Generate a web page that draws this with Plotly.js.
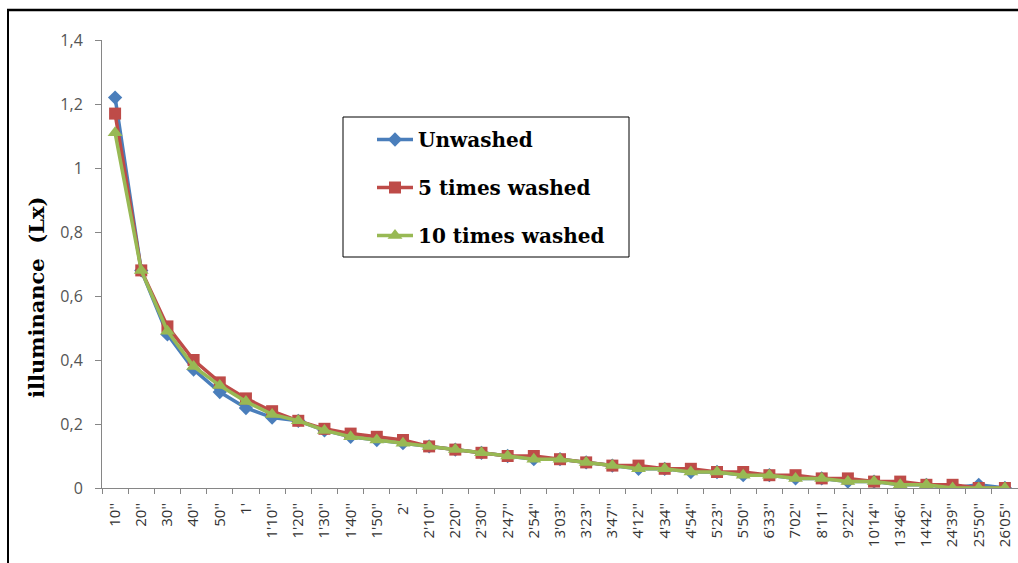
<!DOCTYPE html>
<html>
<head>
<meta charset="utf-8">
<script src="https://cdn.plot.ly/plotly-3.0.1.min.js"></script>
<style>
  html, body { margin: 0; padding: 0; background: #fff; }
  #chart { width: 1018px; height: 563px; }
</style>
</head>
<body>
<div id="chart"></div>
<script>
const categories = ["10''","20''","30''","40''","50''","1'","1'10''","1'20''","1'30''","1'40''","1'50''","2'","2'10''","2'20''","2'30''","2'47''","2'54''","3'03''","3'23''","3'47''","4'12''","4'34''","4'54''","5'23''","5'50''","6'33''","7'02''","8'11''","9'22''","10'14''","13'46''","14'42''","24'39''","25'50''","26'05''"];

const unwashed = [1.22,0.68,0.48,0.37,0.30,0.25,0.22,0.21,0.18,0.16,0.15,0.14,0.13,0.12,0.11,0.10,0.09,0.09,0.08,0.07,0.06,0.06,0.05,0.05,0.04,0.04,0.03,0.03,0.02,0.02,0.01,0.01,0.00,0.01,0.00];
const washed5 = [1.17,0.68,0.505,0.40,0.33,0.28,0.24,0.21,0.185,0.17,0.16,0.15,0.13,0.12,0.11,0.10,0.10,0.09,0.08,0.07,0.07,0.06,0.06,0.05,0.05,0.04,0.04,0.03,0.03,0.02,0.02,0.01,0.01,0.00,0.00];
const washed10 = [1.11,0.68,0.49,0.38,0.32,0.27,0.23,0.21,0.18,0.16,0.15,0.14,0.13,0.12,0.11,0.10,0.09,0.09,0.08,0.07,0.06,0.06,0.05,0.05,0.04,0.04,0.03,0.03,0.02,0.02,0.01,0.01,0.00,0.00,0.00];

const seriesNames = ["Unwashed","5 times washed","10 times washed"];
const yTickVals = [0,0.2,0.4,0.6,0.8,1,1.2,1.4];
const yTitle = 'illuminance  (Lx)';

// pixel helpers for paper coordinates (plot area: x 102..1018, y 40..488)
const PX = px => (px - 102) / 916;
const PY = py => (488 - py) / 448;

const traces = [
  {x: categories, y: unwashed, name: seriesNames[0], legendgroup: 'a', type: 'scatter', mode: 'lines+markers',
   line: {color: '#4a7ebb', width: 3.5}, marker: {symbol: 'diamond', size: 11, color: '#4a7ebb'}},
  {x: categories, y: washed5, name: seriesNames[1], legendgroup: 'b', type: 'scatter', mode: 'lines+markers',
   line: {color: '#be4b48', width: 3.5}, marker: {symbol: 'square', size: 12, color: '#be4b48'}},
  {x: categories, y: washed10, name: seriesNames[2], legendgroup: 'c', type: 'scatter', mode: 'lines+markers',
   line: {color: '#98b954', width: 3.5}, marker: {symbol: 'triangle-up', size: 13, color: '#98b954'}}
];

const layout = {
  width: 1018, height: 563,
  margin: {l: 102, r: 0, t: 40, b: 75},
  paper_bgcolor: '#fff', plot_bgcolor: '#fff',
  separators: ', ',
  showlegend: true,
  legend: {
    x: PX(372), y: PY(120), xanchor: 'left', yanchor: 'top',
    borderwidth: 0, bgcolor: 'rgba(0,0,0,0)',
    traceorder: 'grouped', tracegroupgap: 19,
    font: {family: 'DejaVu Serif', size: 20, color: '#000', weight: 'bold'},
    itemwidth: 36
  },
  xaxis: {
    type: 'category', range: [-0.5, 34.5],
    tickangle: -90, tickson: 'boundaries', ticks: 'outside', ticklen: 5, tickcolor: '#868686',
    ticklabelstandoff: 8,
    showline: true, linecolor: '#868686', linewidth: 1, showgrid: false, zeroline: false,
    tickfont: {family: 'Open Sans', size: 15, color: '#333'}
  },
  yaxis: {
    range: [0, 1.4], tickvals: yTickVals, ticks: 'outside', ticklen: 6, tickcolor: '#868686',
    ticklabelstandoff: 9,
    showline: true, linecolor: '#868686', linewidth: 1, showgrid: false, zeroline: false,
    tickfont: {family: 'Open Sans', size: 16, color: '#555'}
  },
  annotations: [{
    text: yTitle, xref: 'paper', yref: 'paper', x: PX(36), y: PY(298),
    xanchor: 'center', yanchor: 'middle', textangle: -90, showarrow: false,
    font: {family: 'DejaVu Serif', size: 21, color: '#000', weight: 'bold'}
  }],
  shapes: [
    {type: 'line', xref: 'paper', yref: 'paper', x0: PX(7), x1: PX(1030), y0: PY(10), y1: PY(10),
     line: {color: '#000', width: 2.5}},
    {type: 'line', xref: 'paper', yref: 'paper', x0: PX(8), x1: PX(8), y0: PY(10), y1: PY(580),
     line: {color: '#000', width: 2}},
    {type: 'rect', xref: 'paper', yref: 'paper', x0: PX(343), x1: PX(629), y0: PY(257), y1: PY(117),
     line: {color: '#000', width: 1}, fillcolor: 'rgba(0,0,0,0)'}
  ]
};

Plotly.newPlot('chart', traces, layout, {displayModeBar: false, staticPlot: true});
</script>
</body>
</html>
